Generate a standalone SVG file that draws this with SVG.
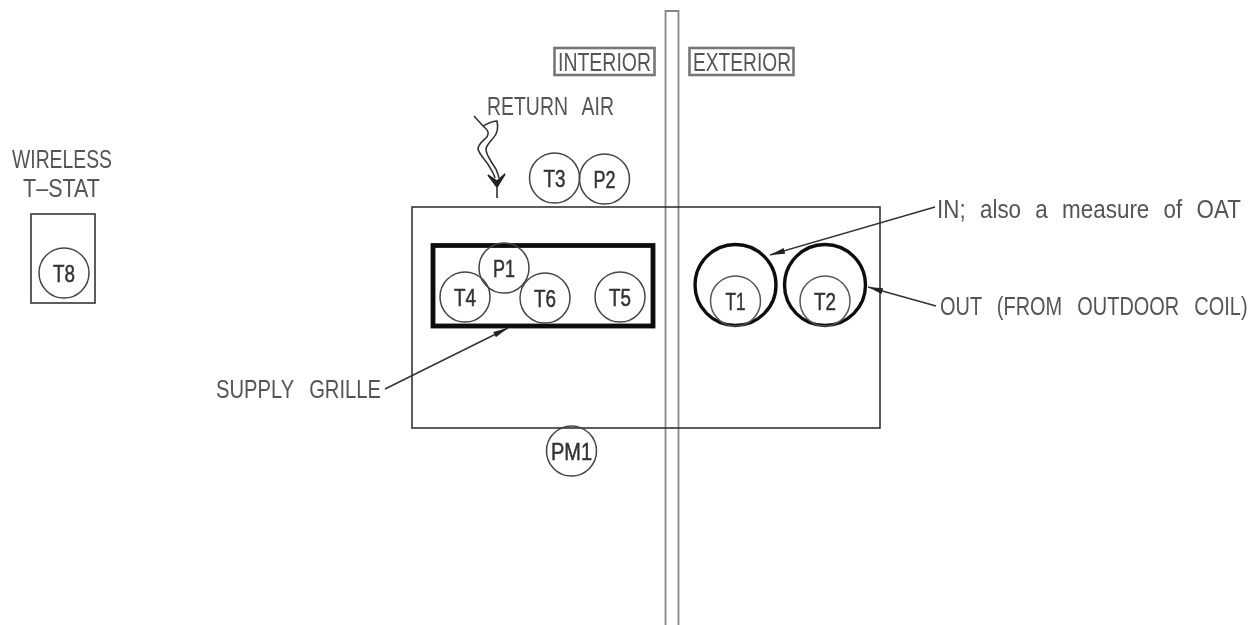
<svg xmlns="http://www.w3.org/2000/svg" width="1257" height="625" viewBox="0 0 1257 625">
<defs>
<filter id="soft" filterUnits="userSpaceOnUse" x="0" y="0" width="1257" height="625"><feGaussianBlur stdDeviation="0.7"/></filter>
<marker id="arr" markerWidth="16" markerHeight="8" refX="15" refY="4" orient="auto" markerUnits="userSpaceOnUse"><path d="M0 1L15 4L0 7Z" fill="#222"/></marker>
</defs>
<style>
.l{fill:none;stroke:#333;stroke-width:1.600}
.w{fill:none;stroke:#888;stroke-width:1.800}
.h{fill:none;stroke:#111;stroke-width:3.400}
.g{fill:none;stroke:#111;stroke-width:4.800}
.c{fill:none;stroke:#444;stroke-width:1.500}
.i{fill:none;stroke:#555;stroke-width:1.500}
.lead{fill:none;stroke:#333;stroke-width:1.500}
text{font-family:"Liberation Sans",Arial,sans-serif;fill:#555;font-size:25px}
.n{text-anchor:middle;font-size:23px;fill:#333;stroke:#333;stroke-width:0.500}
.b{fill:none;stroke:#777;stroke-width:2.600}
</style>
<rect width="1257" height="625" fill="#fff"/>
<g filter="url(#soft)">
<g id="wall"><path class="w" d="M665.500 625V11H678.500V625"/></g>
<g id="label-interior"><rect class="b" x="554.500" y="48" width="100" height="27"/><text x="558" y="71" textLength="93" lengthAdjust="spacingAndGlyphs">INTERIOR</text></g>
<g id="label-exterior"><rect class="b" x="689.500" y="48" width="104" height="27"/><text x="693" y="71" textLength="98" lengthAdjust="spacingAndGlyphs">EXTERIOR</text></g>
<g id="unit"><rect class="l" x="412" y="207" width="468" height="221"/></g>
<g id="grille"><rect class="g" x="433" y="245.500" width="220" height="80.500"/></g>
<g id="T3"><circle class="c" cx="554.500" cy="178" r="25"/><text class="n" x="554.500" y="187" textLength="22" lengthAdjust="spacingAndGlyphs">T3</text></g>
<g id="P2"><circle class="c" cx="604.500" cy="179" r="25"/><text class="n" x="604.500" y="188" textLength="22" lengthAdjust="spacingAndGlyphs">P2</text></g>
<g id="P1"><circle class="c" cx="504" cy="268" r="25"/><text class="n" x="504" y="277" textLength="22" lengthAdjust="spacingAndGlyphs">P1</text></g>
<g id="T4"><circle class="c" cx="465" cy="297" r="25"/><text class="n" x="465" y="306" textLength="22" lengthAdjust="spacingAndGlyphs">T4</text></g>
<g id="T6"><circle class="c" cx="545" cy="298" r="25"/><text class="n" x="545" y="307" textLength="22" lengthAdjust="spacingAndGlyphs">T6</text></g>
<g id="T5"><circle class="c" cx="620" cy="297" r="25"/><text class="n" x="620" y="306" textLength="22" lengthAdjust="spacingAndGlyphs">T5</text></g>
<g id="PM1"><circle class="c" cx="571.500" cy="451" r="25"/><text class="n" x="571.500" y="460" textLength="41" lengthAdjust="spacingAndGlyphs">PM1</text></g>
<g id="T1"><circle class="h" cx="735.500" cy="285" r="40.500"/><circle class="i" cx="735.500" cy="301" r="25"/><text class="n" x="735.500" y="310" textLength="20" lengthAdjust="spacingAndGlyphs">T1</text></g>
<g id="T2"><circle class="h" cx="825" cy="285" r="40.500"/><circle class="i" cx="825" cy="301" r="25"/><text class="n" x="825" y="310" textLength="22" lengthAdjust="spacingAndGlyphs">T2</text></g>
<g id="T8-stat"><rect class="l" x="31" y="214" width="64" height="89"/><circle class="c" cx="64" cy="273" r="25"/><text class="n" x="64" y="282" textLength="22" lengthAdjust="spacingAndGlyphs">T8</text></g>
<g id="connectors">
<path class="lead" marker-end="url(#arr)" d="M935 207L770 255"/>
<path class="lead" marker-end="url(#arr)" d="M936 306L868 287"/>
<path class="lead" marker-end="url(#arr)" d="M385 389L508 328"/>
<path class="l" d="M474 116L483 126C489 131 489 133 487 137C483 141 478 144 478 149C480 156 486 160 489 166C492 171 494 174 495 178"/>
<path class="l" d="M483 126C487 124 492 121 497 121C498 126 498 130 496 134C493 140 487 143 486 149C486 155 491 161 494 166C497 170 498 174 499 178"/>
<path fill="#222" stroke="#222" stroke-width="1.500" d="M497 198V187L488 175L497 181L505 174L497 187"/>
</g>
<g id="labels">
<text x="487" y="115" textLength="127" lengthAdjust="spacingAndGlyphs" word-spacing="12">RETURN AIR</text>
<text x="12" y="168" textLength="100" lengthAdjust="spacingAndGlyphs">WIRELESS</text>
<text x="23" y="197" textLength="77" lengthAdjust="spacingAndGlyphs">T–STAT</text>
<text transform="translate(937 218) scale(.897 1)" word-spacing="9">IN; also a measure of OAT</text>
<text transform="translate(940 315) scale(.798 1)" word-spacing="12">OUT (FROM OUTDOOR COIL)</text>
<text x="216" y="398" textLength="165" lengthAdjust="spacingAndGlyphs" word-spacing="12">SUPPLY GRILLE</text>
</g>
</g>
</svg>
